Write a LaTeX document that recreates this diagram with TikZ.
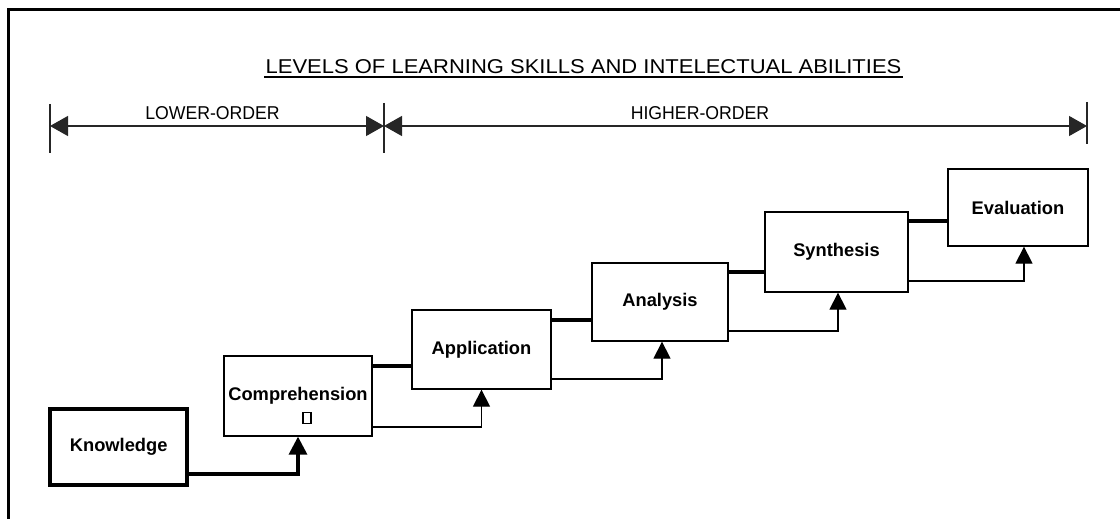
\documentclass[tikz,border=0pt]{standalone}
\usepackage{fontspec}
\setmainfont{Liberation Sans}
\newfontfamily\titlefont[FakeStretch=1.1]{Liberation Sans}
\newfontfamily\dimfont[FakeStretch=0.95]{Liberation Sans}
\usetikzlibrary{arrows.meta}
\tikzset{
  box/.style={draw=black, line width=1.3pt, rectangle, inner sep=0pt, fill=white,
    font=\fontsize{18.3}{20}\selectfont\bfseries},
  thickbox/.style={box, line width=4pt},
  link/.style={line width=3.4pt},
  flow/.style={line width=1.3pt, -{Triangle[length=17pt,width=17pt]}},
  kflow/.style={line width=3.3pt, -{Triangle[length=18pt,width=18pt]}},
  dimline/.style={line width=1.3pt, draw=black!85},
  dimtip/.style={dimline, {Triangle[length=18pt,width=20pt]}-{Triangle[length=18pt,width=20pt]}},
  dimlabel/.style={font=\dimfont\fontsize{18.6}{20}\selectfont, anchor=base, inner sep=0pt},
}
\begin{document}
\begin{tikzpicture}[x=1pt,y=-1pt]
\useasboundingbox (0,0) rectangle (1120,519);
% frame (clipped)
\draw[line width=3pt] (8,522) |- (1124,10);
% title
\node[font=\titlefont\fontsize{20}{22}\selectfont, anchor=base, inner sep=0pt] (title) at (583.5,73.5)
  {LEVELS OF LEARNING SKILLS AND INTELECTUAL ABILITIES};
\draw[line width=1.3pt] (264,77) -- (903,77);
% dimension lines
\coordinate (d0) at (50,126);
\coordinate (d1) at (384,126);
\coordinate (d2) at (1087,126);
\draw[dimline] (50,104) -- (50,153);
\draw[dimline] (384,103) -- (384,153);
\draw[dimline] (1087,102) -- (1087,144);
\draw[dimtip] (d0) -- (d1);
\draw[dimtip] (d1) -- (d2);
\node[dimlabel] (lower) at (212.5,119) {LOWER-ORDER};
\node[dimlabel] (higher) at (700,119) {HIGHER-ORDER};
% boxes
\node[thickbox, minimum width=136.7pt, minimum height=75.2pt] (know) at (118.7,447) {Knowledge};
\node[box, minimum width=148pt, minimum height=80pt] (comp) at (298,396) {Comprehension};
\node[draw=black, line width=1.3pt, minimum width=8pt, minimum height=10.5pt, inner sep=0pt] (glyph) at (307,418) {};
\node[box, minimum width=139pt, minimum height=79pt] (app) at (481.5,349.5) {Application};
\node[box, minimum width=136pt, minimum height=78pt] (ana) at (660,302) {Analysis};
\node[box, minimum width=143pt, minimum height=80pt] (syn) at (836.5,252) {Synthesis};
\node[box, minimum width=140pt, minimum height=77pt] (eval) at (1018,207.5) {Evaluation};
% thick links between neighbouring boxes
\draw[link] (comp.east |- 0,366) -- (app.west |- 0,366);
\draw[link] (app.east |- 0,320) -- (ana.west |- 0,320);
\draw[link] (ana.east |- 0,272) -- (syn.west |- 0,272);
\draw[link] (syn.east |- 0,221) -- (eval.west |- 0,221);
% arrows up into the next box
\draw[kflow] (know.east |- 0,474) -| (comp.south);
\draw[flow] (comp.east |- 0,427) -| (app.south);
\draw[flow] (ana.east |- 0,331) -| ([xshift=1.5pt]syn.south);
\draw[flow] (app.east |- 0,379) -| ([xshift=2pt]ana.south);
\draw[flow] (syn.east |- 0,281) -| ([xshift=6pt]eval.south);
\end{tikzpicture}
\end{document}
